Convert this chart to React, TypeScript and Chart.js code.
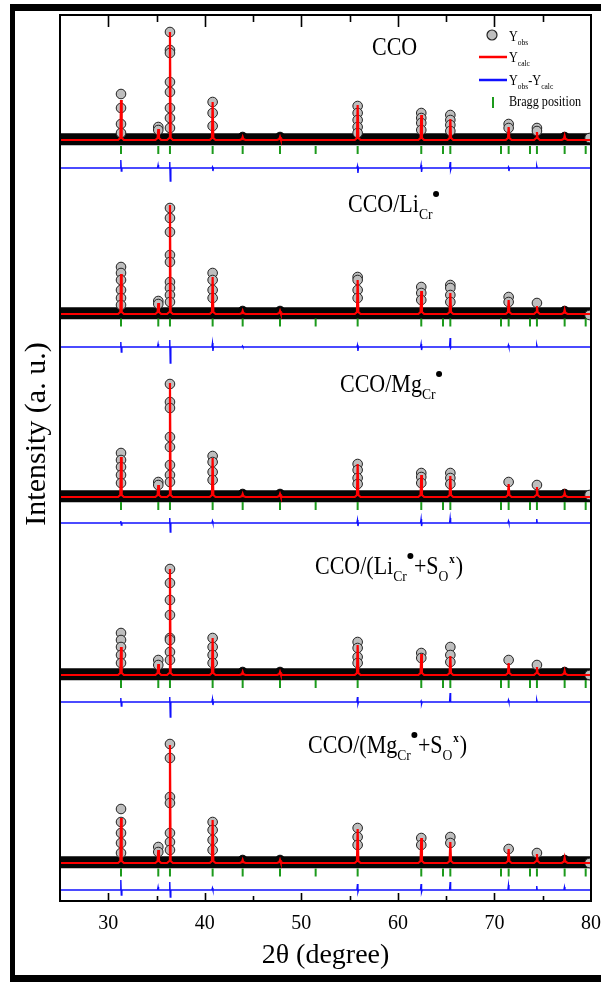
import React, { useEffect, useRef } from "react";
import { Chart, registerables } from "chart.js";

Chart.register(...registerables);

// ---------------- data ----------------
const X_MIN = 25;
const X_MAX = 80;
const Y_MIN = 0;
const Y_MAX = 88600;

const BRAGG_POSITIONS = [31.32, 35.18, 36.39, 40.81, 43.92, 47.79, 51.48, 55.83, 62.42, 64.67, 65.43, 70.68, 71.47, 73.68, 74.4, 77.27, 79.45];
const PEAK_POSITIONS = [31.32, 35.18, 36.39, 40.81, 43.92, 47.79, 55.83, 62.42, 65.43, 71.47, 74.4, 77.27];
const EDGE_POSITION = 79.85;

// calculated peak heights (above each pattern's background), one per PEAK_POSITIONS
const CALC_CCO = [4000, 1100, 10800, 3800, 300, 300, 3500, 2500, 2100, 1300, 800, 400];
const CALC_LI = [4000, 1100, 10900, 3700, 300, 300, 3400, 2300, 2100, 1400, 800, 400];
const CALC_MG = [4000, 1200, 11400, 3900, 300, 300, 3300, 2200, 2100, 1300, 1000, 400];
const CALC_LI_S = [2800, 1100, 10600, 3700, 300, 300, 3000, 2100, 1900, 1200, 800, 400];
const CALC_MG_S = [4500, 1300, 11800, 4300, 300, 300, 3400, 2500, 2100, 1400, 900, 500];

// observed points that stand out of the background band, per peak
const OBS_CCO = [[4600, 3200, 1600, 700], [1300, 1000], [10800, 9000, 8700, 5800, 4800, 3200, 2200, 1200], [3800, 2700, 1400], [], [], [3400, 2700, 2000, 1300, 700], [2700, 2200, 1700, 1000], [2500, 2000, 1500, 900], [1600, 1200], [1200, 900], []];
const OBS_LI = [[4700, 4100, 3400, 2400, 1600, 900], [1300, 1000], [10600, 9600, 8200, 5900, 5200, 3200, 2600, 1900, 1200], [4100, 3400, 2400, 1600], [], [], [3700, 3400, 2400, 1600], [2700, 2100, 1400], [2900, 2600, 1900, 1200], [1700, 1200], [1100], []];
const OBS_MG = [[4400, 3700, 3000, 2200, 1400], [1500, 1200], [11300, 9500, 8900, 6000, 5000, 3200, 2200, 1500], [4100, 3500, 2500, 1700], [], [], [3300, 2700, 1900, 1300], [2400, 2000, 1400], [2400, 1900, 1300], [1500], [1200], []];
const OBS_LI_S = [[4200, 3500, 2800, 2000, 1200], [1500, 1000], [10600, 9200, 7500, 6000, 3700, 3500, 2300, 1500], [3700, 2800, 2000, 1200], [], [], [3300, 2700, 1800, 1200], [2200, 1700], [2800, 2000, 1300], [1500], [1000], []];
const OBS_MG_S = [[5400, 4100, 3000, 2000, 1000], [1600, 1100], [11900, 10500, 6600, 6000, 3000, 2100, 1300], [4100, 3300, 2300, 1300], [], [], [3500, 2600, 1800], [2500, 1800], [2600, 2000], [1400], [1000], []];
const OBS_EDGE = [200, -100, 200, 0, 0];

// background band of dense observed points: level and small dark bumps
const BAND_LEVEL = 80;
const BAND_BUMP_POSITIONS = [43.92, 47.79, 77.27];
const BAND_BUMP_HEIGHTS = [250, 250, 250];

// difference curve spikes: [2θ, up, down]
const DIFF_CCO = [[31.32, 800, -300], [35.18, 300, 0], [36.39, 600, -1300], [40.81, 100, -300], [55.83, 200, -500], [62.42, 300, -400], [65.43, 600, -200], [71.47, 100, -300], [74.4, 200, 0]];
const DIFF_LI = [[31.32, 500, -500], [35.18, 300, 0], [36.39, 700, -1600], [40.81, 400, -400], [43.92, 100, 0], [55.83, 200, -400], [62.42, 300, -300], [65.43, 900, -100], [71.47, 200, 0], [74.4, 200, 0]];
const DIFF_MG = [[31.32, 200, -200], [36.39, 500, -900], [40.81, 200, 0], [55.83, 300, -300], [62.42, 400, -300], [65.43, 500, 0], [71.47, 200, 0], [74.4, 400, 0]];
const DIFF_LI_S = [[31.32, 400, -400], [36.39, 500, -1500], [40.81, 300, -300], [55.83, 500, -200], [62.42, 100, -200], [65.43, 900, 0], [71.47, 200, 0], [74.4, 200, 0]];
const DIFF_MG_S = [[31.32, 1000, -500], [35.18, 300, 0], [36.39, 800, -700], [40.81, 200, 0], [55.83, 600, -200], [62.42, 600, -200], [65.43, 800, 0], [71.47, 500, 0], [74.4, 400, 0], [77.27, 300, 0]];

// vertical offsets of each pattern
const CALC_BASE = [76100, 58700, 40400, 22600, 3800];
const DIFF_BASE = [73300, 55400, 37800, 19900, 1100];
const BRAGG_BASE = [75100, 57850, 39500, 21700, 2850];

const CALC_SETS = [CALC_CCO, CALC_LI, CALC_MG, CALC_LI_S, CALC_MG_S];
const OBS_SETS = [OBS_CCO, OBS_LI, OBS_MG, OBS_LI_S, OBS_MG_S];
const DIFF_SETS = [DIFF_CCO, DIFF_LI, DIFF_MG, DIFF_LI_S, DIFF_MG_S];

type Part = { t?: string; k: "n" | "sub" | "sup" | "dot" };
const PANEL_LABELS: Part[][] = [
  [{ t: "CCO", k: "n" }],
  [{ t: "CCO/Li", k: "n" }, { t: "Cr", k: "sub" }, { k: "dot" }],
  [{ t: "CCO/Mg", k: "n" }, { t: "Cr", k: "sub" }, { k: "dot" }],
  [{ t: "CCO/(Li", k: "n" }, { t: "Cr", k: "sub" }, { k: "dot" }, { t: "+S", k: "n" }, { t: "O", k: "sub" }, { t: "x", k: "sup" }, { t: ")", k: "n" }],
  [{ t: "CCO/(Mg", k: "n" }, { t: "Cr", k: "sub" }, { k: "dot" }, { t: "+S", k: "n" }, { t: "O", k: "sub" }, { t: "x", k: "sup" }, { t: ")", k: "n" }],
];
const PANEL_LABEL_POS = [[372, 55], [348, 212], [340, 392], [315, 574], [308, 753]];

const X_TITLE = "2θ (degree)";
const Y_TITLE = "Intensity (a. u.)";

// ---------------- styles ----------------
const SERIF = '"Liberation Serif", "Times New Roman", serif';
const RED = "#ff0000";
const BLUE = "#1010ff";
const GREEN = "#1c9a1c";
const GRAY = "#bebebe";

function drawRich(ctx: CanvasRenderingContext2D, x: number, y: number, parts: Part[], size: number, sx: number) {
  ctx.save();
  ctx.translate(x, y);
  ctx.scale(sx, 1);
  ctx.fillStyle = "#000";
  ctx.textBaseline = "alphabetic";
  ctx.textAlign = "left";
  let cx = 0;
  for (const p of parts) {
    if (p.k === "n") {
      ctx.font = `${size}px ${SERIF}`;
      ctx.fillText(p.t!, cx, 0);
      cx += ctx.measureText(p.t!).width;
    } else if (p.k === "sub") {
      ctx.font = `${size * 0.62}px ${SERIF}`;
      ctx.fillText(p.t!, cx, size * 0.28);
      cx += ctx.measureText(p.t!).width;
    } else if (p.k === "sup") {
      ctx.font = `bold ${size * 0.5}px ${SERIF}`;
      ctx.fillText(p.t!, cx + 1, -size * 0.45);
      cx += ctx.measureText(p.t!).width + 2;
    } else if (p.k === "dot") {
      const r = size * 0.12;
      ctx.beginPath();
      ctx.ellipse(cx + r + 1, -size * 0.72, r / sx, r, 0, 0, Math.PI * 2);
      ctx.fill();
      cx += (2 * r + 2);
    }
  }
  ctx.restore();
}

const decoPlugin = {
  id: "deco",
  beforeDraw(chart: any) {
    const ctx = chart.ctx as CanvasRenderingContext2D;
    ctx.save();
    ctx.fillStyle = "#fff";
    ctx.fillRect(0, 0, chart.width, chart.height);
    ctx.fillStyle = "#000";
    ctx.fillRect(10, 4, chart.width, 7);
    ctx.fillRect(10, 4, 5, 978);
    ctx.fillRect(10, 975, chart.width, 7);
    ctx.restore();
  },
  afterDatasetsDraw(chart: any) {
    const ctx = chart.ctx as CanvasRenderingContext2D;
    const { left, right, top, bottom } = chart.chartArea;
    const xs = chart.scales.x;
    ctx.save();
    ctx.strokeStyle = "#000";
    ctx.lineWidth = 2;
    ctx.strokeRect(left, top, right - left, bottom - top);
    ctx.lineWidth = 1.6;
    for (const t of xs.ticks) {
      const v = t.value;
      if (v <= X_MIN || v >= X_MAX) continue;
      const px = Math.round(xs.getPixelForValue(v)) + 0.5;
      const major = v % 10 === 0;
      ctx.beginPath();
      ctx.moveTo(px, top);
      ctx.lineTo(px, top + (major ? 12 : 7));
      ctx.moveTo(px, bottom);
      ctx.lineTo(px, bottom - (major ? 8 : 5));
      ctx.stroke();
    }
    ctx.restore();

    // panel labels
    PANEL_LABELS.forEach((parts, i) => {
      const [lx, ly] = PANEL_LABEL_POS[i];
      drawRich(ctx, lx, ly, parts, 25, 0.88);
    });

    // legend
    ctx.save();
    ctx.fillStyle = GRAY;
    ctx.strokeStyle = "#222";
    ctx.lineWidth = 1.2;
    ctx.beginPath();
    ctx.arc(492, 35, 5, 0, Math.PI * 2);
    ctx.fill();
    ctx.stroke();
    ctx.lineWidth = 2.5;
    ctx.strokeStyle = RED;
    ctx.beginPath();
    ctx.moveTo(479, 57);
    ctx.lineTo(507, 57);
    ctx.stroke();
    ctx.strokeStyle = BLUE;
    ctx.beginPath();
    ctx.moveTo(479, 80);
    ctx.lineTo(507, 80);
    ctx.stroke();
    ctx.strokeStyle = GREEN;
    ctx.lineWidth = 2;
    ctx.beginPath();
    ctx.moveTo(493, 97);
    ctx.lineTo(493, 108);
    ctx.stroke();
    ctx.restore();
    drawRich(ctx, 509, 41, [{ t: "Y", k: "n" }, { t: "obs", k: "sub" }], 14, 0.87);
    drawRich(ctx, 509, 62, [{ t: "Y", k: "n" }, { t: "calc", k: "sub" }], 14, 0.87);
    drawRich(ctx, 509, 85, [{ t: "Y", k: "n" }, { t: "obs", k: "sub" }, { t: "-Y", k: "n" }, { t: "calc", k: "sub" }], 14, 0.87);
    drawRich(ctx, 509, 106, [{ t: "Bragg position", k: "n" }], 14, 0.87);
  },
  afterDraw(chart: any) {
    const ctx = chart.ctx as CanvasRenderingContext2D;
    ctx.save();
    ctx.translate(45, 434);
    ctx.rotate(-Math.PI / 2);
    ctx.fillStyle = "#000";
    ctx.font = `30px ${SERIF}`;
    ctx.textAlign = "center";
    ctx.textBaseline = "alphabetic";
    ctx.fillText(Y_TITLE, 0, 0);
    ctx.restore();
  },
};

function buildDatasets() {
  const ds: any[] = [];
  for (let i = 0; i < 5; i++) {
    const base = CALC_BASE[i];
    const calc = CALC_SETS[i];
    const calcPts: { x: number; y: number }[] = [{ x: X_MIN, y: base }];
    PEAK_POSITIONS.forEach((p, j) => {
      const h = calc[j];
      const foot = Math.min(200, h * 0.3);
      calcPts.push({ x: p - 0.3, y: base });
      calcPts.push({ x: p - 0.07, y: base + foot });
      calcPts.push({ x: p, y: base + h });
      calcPts.push({ x: p + 0.07, y: base + foot });
      calcPts.push({ x: p + 0.3, y: base });
    });
    calcPts.push({ x: X_MAX, y: base });

    const obsPts: { x: number; y: number }[] = [];
    OBS_SETS[i].forEach((list, j) => {
      list.forEach((h) => obsPts.push({ x: PEAK_POSITIONS[j], y: base + h }));
    });
    obsPts.push({ x: EDGE_POSITION, y: base + OBS_EDGE[i] });

    const bandPts = [{ x: X_MIN, y: base + BAND_LEVEL }, { x: X_MAX, y: base + BAND_LEVEL }];
    const bumpPts = BAND_BUMP_POSITIONS.map((p, j) => ({ x: p, y: base + BAND_LEVEL + BAND_BUMP_HEIGHTS[j] }));

    const dBase = DIFF_BASE[i];
    const diffPts: { x: number; y: number }[] = [{ x: X_MIN, y: dBase }];
    DIFF_SETS[i].forEach(([p, up, down]) => {
      diffPts.push({ x: p - 0.08, y: dBase });
      diffPts.push({ x: p - 0.02, y: dBase + up });
      diffPts.push({ x: p + 0.03, y: dBase + down });
      diffPts.push({ x: p + 0.09, y: dBase });
    });
    diffPts.push({ x: X_MAX, y: dBase });

    const braggPts = BRAGG_POSITIONS.map((x) => ({ x, y: BRAGG_BASE[i] }));

    ds.push({
      label: `Ycalc ${i}`,
      data: calcPts,
      showLine: true,
      borderColor: RED,
      borderWidth: 2.2,
      pointRadius: 0,
      tension: 0,
      order: 1,
      clip: 0,
    });
    ds.push({
      label: `Bragg ${i}`,
      data: braggPts,
      showLine: false,
      pointStyle: "line",
      rotation: 90,
      pointRadius: 4,
      borderColor: GREEN,
      pointBorderColor: GREEN,
      pointBorderWidth: 2,
      order: 2,
      clip: 0,
    });
    ds.push({
      label: `Diff ${i}`,
      data: diffPts,
      showLine: true,
      borderColor: BLUE,
      borderWidth: 1.4,
      pointRadius: 0,
      tension: 0,
      order: 3,
      clip: 0,
    });
    ds.push({
      label: `Yobs ${i}`,
      data: obsPts,
      showLine: false,
      pointRadius: 4.8,
      pointBackgroundColor: GRAY,
      pointBorderColor: "#222",
      pointBorderWidth: 1,
      order: 4,
      clip: 0,
    });
    ds.push({
      label: `Yobs dense ${i}`,
      data: bumpPts,
      showLine: false,
      pointRadius: 4.5,
      pointBackgroundColor: "#050505",
      pointBorderColor: "#050505",
      pointBorderWidth: 1,
      order: 5,
      clip: 0,
    });
    ds.push({
      label: `Yobs band ${i}`,
      data: bandPts,
      showLine: true,
      borderColor: "#050505",
      borderWidth: 12,
      pointRadius: 0,
      tension: 0,
      order: 6,
      clip: 0,
    });
  }
  return ds;
}

export default function App() {
  const ref = useRef<HTMLCanvasElement | null>(null);
  useEffect(() => {
    if (!ref.current) return;
    const chart = new Chart(ref.current, {
      type: "scatter",
      data: { datasets: buildDatasets() },
      options: {
        animation: false,
        responsive: false,
        events: [],
        layout: { padding: { left: 60, right: 10, top: 15, bottom: 0 } },
        plugins: { legend: { display: false }, tooltip: { enabled: false } },
        scales: {
          x: {
            type: "linear",
            min: X_MIN,
            max: X_MAX,
            grid: { display: false, drawTicks: false },
            border: { display: false },
            ticks: {
              stepSize: 5,
              autoSkip: false,
              maxRotation: 0,
              padding: 11,
              color: "#000",
              font: { family: SERIF, size: 20 },
              callback: (v: any) => (Number(v) % 10 === 0 && Number(v) >= 30 ? String(v) : ""),
            },
            title: {
              display: true,
              text: X_TITLE,
              color: "#000",
              font: { family: SERIF, size: 28 },
              padding: { top: 0, bottom: 11 },
            },
            afterFit: (s: any) => {
              s.height = 82;
              s.paddingLeft = 0;
              s.paddingRight = 0;
            },
          },
          y: { type: "linear", min: Y_MIN, max: Y_MAX, display: false },
        },
      },
      plugins: [decoPlugin],
    });
    return () => chart.destroy();
  }, []);
  return (
    <div style={{ position: "absolute", left: 0, top: 0, width: 601, height: 983 }}>
      <canvas ref={ref} width={601} height={983} style={{ display: "block" }} />
    </div>
  );
}
